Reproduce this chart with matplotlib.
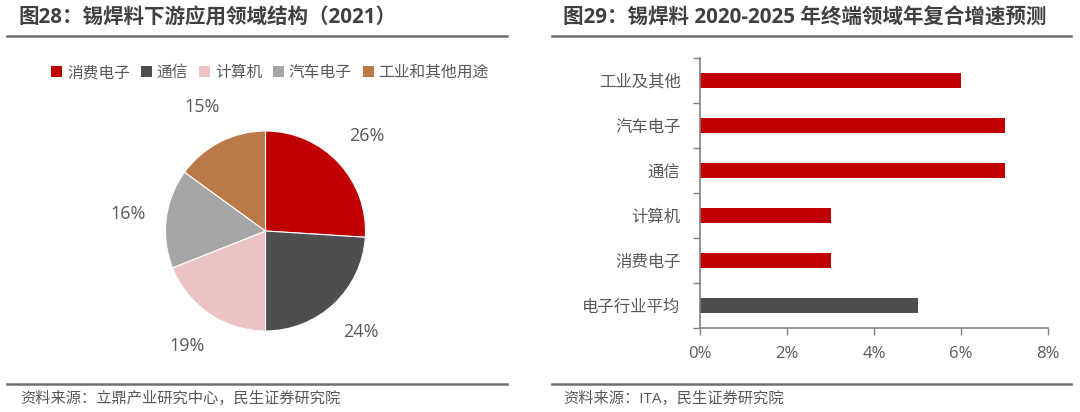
import matplotlib.pyplot as plt
from matplotlib.lines import Line2D
from matplotlib.patches import Patch
from matplotlib.ticker import FixedLocator, PercentFormatter

plt.rcParams['font.family'] = ['Open Sans', 'Noto Sans CJK SC', 'DejaVu Sans']

# 左图：下游应用结构
pie_labels = ['消费电子', '通信', '计算机', '汽车电子', '工业和其他用途']
pie_shares = [26, 24, 19, 16, 15]
pie_colors = ['#C00000', '#4D4E50', '#EBC3C3', '#A6A6A6', '#BA7947']

# 右图：年复合增速预测（从下到上）
bar_cats = ['电子行业平均', '消费电子', '计算机', '通信', '汽车电子', '工业及其他']
bar_values = [0.05, 0.03, 0.03, 0.07, 0.07, 0.06]
bar_colors = ['#4D4E50'] + ['#C00000'] * 5

W, H = 1080, 412
fig = plt.figure(figsize=(W / 100, H / 100), dpi=100)

def fx(px):
    return px / W

def fy(py):
    return 1 - py / H

title_c = '#404040'
text_c = '#595959'
line_c = '#6E6E6E'

# 标题和分隔线
fig.text(fx(18), fy(18), '图28：锡焊料下游应用领域结构（2021）', fontsize=14.8,
         fontweight='bold', color=title_c, va='center', ha='left')
fig.text(fx(563), fy(18), '图29：锡焊料 2020-2025 年终端领域年复合增速预测', fontsize=14.8,
         fontweight='bold', color=title_c, va='center', ha='left')
for x0, x1 in [(7, 507), (552, 1071)]:
    fig.add_artist(Line2D([fx(x0), fx(x1)], [fy(36), fy(36)], color=line_c, lw=1.8))
    fig.add_artist(Line2D([fx(x0), fx(x1)], [fy(384), fy(384)], color=line_c, lw=1.8))
fig.text(fx(20), fy(399), '资料来源：立鼎产业研究中心，民生证券研究院', fontsize=11,
         color=text_c, va='center', ha='left')
fig.text(fx(563), fy(399), '资料来源：ITA，民生证券研究院', fontsize=11,
         color=text_c, va='center', ha='left')

# 饼图
cx, cy, half = 265.5, 231, 125
ax1 = fig.add_axes([fx(cx - half), fy(cy + half), 2 * half / W, 2 * half / H])
ax1.pie(pie_shares, colors=pie_colors, startangle=90, counterclock=False,
        labels=[f'{v}%' for v in pie_shares], labeldistance=1.39,
        textprops=dict(fontsize=13, color=text_c, ha='center', va='center'),
        wedgeprops=dict(linewidth=0.8, edgecolor='white'))
ax1.set_xlim(-1.25, 1.25)
ax1.set_ylim(-1.25, 1.25)
ax1.axis('off')

handles = [Patch(facecolor=c, edgecolor='none') for c in pie_colors]
fig.legend(handles, pie_labels, loc='center', bbox_to_anchor=(fx(270), fy(73)),
           ncol=5, frameon=False, fontsize=11.3, handlelength=0.7, handleheight=0.7,
           handletextpad=0.3, columnspacing=0.7, labelcolor=text_c)

# 条形图
ax2 = fig.add_axes([fx(700), fy(328), 348 / W, 270 / H])
ax2.barh(range(len(bar_cats)), bar_values, height=0.34, color=bar_colors)
ax2.set_xlim(0, 0.08)
ax2.set_ylim(-0.5, len(bar_cats) - 0.5)
ax2.set_xticks([0, 0.02, 0.04, 0.06, 0.08])
ax2.xaxis.set_major_formatter(PercentFormatter(1.0, decimals=0))
ax2.set_yticks(range(len(bar_cats)))
ax2.set_yticklabels(bar_cats)
ax2.yaxis.set_minor_locator(FixedLocator([i - 0.5 for i in range(len(bar_cats) + 1)]))
ax2.tick_params(axis='y', which='major', length=0, pad=14, labelsize=11.8, labelcolor=text_c)
ax2.tick_params(axis='y', which='minor', length=5, color='#808080', width=1)
ax2.tick_params(axis='x', length=5, color='#808080', width=1, pad=8,
                labelsize=12, labelcolor=text_c)
for s in ['top', 'right']:
    ax2.spines[s].set_visible(False)
for s in ['left', 'bottom']:
    ax2.spines[s].set_color('#808080')
    ax2.spines[s].set_linewidth(1.2)

fig.savefig('out.png', dpi=100)
